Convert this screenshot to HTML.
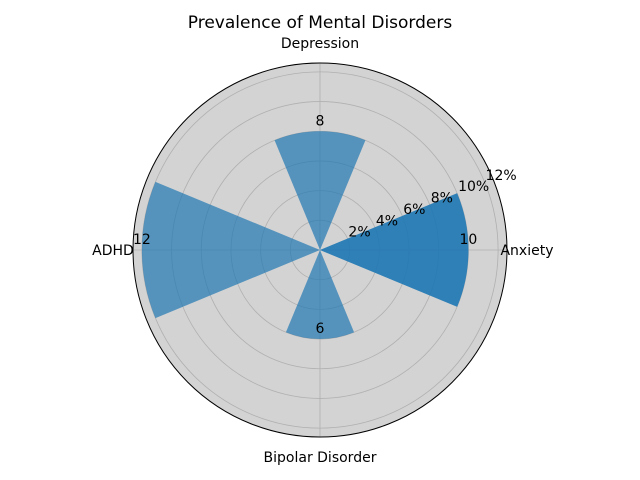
<!DOCTYPE html>
<html><head><meta charset="utf-8"><style>body{margin:0;background:#fff}svg{display:block;font-family:"DejaVu Sans","Liberation Sans",sans-serif}</style></head>
<body>
<svg id="chart" width="640" height="480">
<text x="320" y="28" text-anchor="middle" font-size="17">Prevalence of Mental Disorders</text>
</svg>
<script>
const categories=["Anxiety","Depression","ADHD","Bipolar Disorder"];
const values=[10,8,12,6];
const ringTicks=[2,4,6,8,10,12];
const ringLabels=["2%","4%","6%","8%","10%","12%"];
const cx=320,cy=250,R=187,rMax=12.6;
const svg=document.getElementById('chart');
const NS='http://www.w3.org/2000/svg';
const rs=v=>v/rMax*R;
function mk(t,a,p){const e=document.createElementNS(NS,t);for(const k in a)e.setAttribute(k,a[k]);(p||svg).appendChild(e);return e;}
function pt(r,ang){return [cx+r*Math.cos(ang),cy-r*Math.sin(ang)];}
const bg=mk('circle',{cx,cy,r:R,fill:'#d3d3d3'});


ringTicks.forEach(t=>{const c=mk('circle',{cx,cy,r:rs(t),fill:'none',stroke:'#b0b0b0','stroke-width':0.8});

});
const n=categories.length;
for(let i=0;i<n;i++){const a=i*2*Math.PI/n;const [x,y]=pt(R,a);const l=mk('line',{x1:cx,y1:cy,x2:x,y2:y,stroke:'#b0b0b0','stroke-width':0.8});

}
const w=Math.PI/4;
values.forEach((v,i)=>{const a=i*2*Math.PI/n;const r=rs(v);const [x1,y1]=pt(r,a-w/2),[x2,y2]=pt(r,a+w/2);
const d=`M${cx},${cy} L${x1},${y1} A${r},${r} 0 0 0 ${x2},${y2} Z`;
const reps=i===0?2:1;
for(let k=0;k<reps;k++){const p=mk('path',{d,fill:'#1f77b4','fill-opacity':0.7});

}});
ringTicks.forEach((t,i)=>{const [x,y]=pt(rs(t),Math.PI/8);const tx=mk('text',{x:x+1,y:y-2,'font-size':14});tx.textContent=ringLabels[i];

});
values.forEach((v,i)=>{const a=i*2*Math.PI/n;const [x,y]=pt(rs(v),a);const tx=mk('text',{x,y:y-6,'font-size':14,'text-anchor':'middle'});tx.textContent=v;

});
const outer=mk('circle',{cx,cy,r:R,fill:'none',stroke:'#000','stroke-width':1});


categories.forEach((c,i)=>{const a=i*2*Math.PI/n;const [x,y]=pt(R+20,a);
const tx=mk('text',{x,y:y+5,'font-size':14,'text-anchor':'middle'});tx.textContent=c;

});
</script>
</body></html>
